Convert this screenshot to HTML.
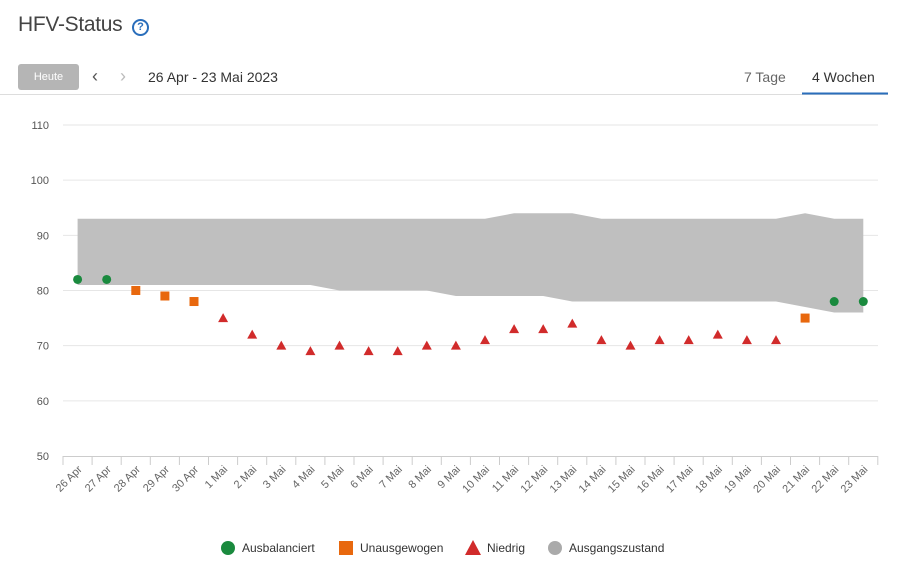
<!DOCTYPE html>
<html><head><meta charset="utf-8"><style>
body{margin:0;width:902px;height:571px;background:#fff;font-family:"Liberation Sans",sans-serif;position:relative;overflow:hidden}
.t{position:absolute;left:18px;top:13px;font-size:21px;color:#444;letter-spacing:-0.3px}
.q{position:absolute;left:132px;top:19px;width:13px;height:13px;border:2px solid #2a6ebb;border-radius:50%;color:#2a6ebb;font-size:11px;font-weight:bold;text-align:center;line-height:13px}
.btn{position:absolute;left:18px;top:64px;width:61px;height:26px;background:#b5b5b5;border-radius:3px;color:#fff;font-size:11px;text-align:center;line-height:26px}
.nav{position:absolute;top:66px;font-size:18px;color:#555}
.d{position:absolute;left:148px;top:69px;font-size:14px;color:#333}
.tab{position:absolute;top:69px;font-size:14px;color:#666}
svg{position:absolute;left:0;top:0}
</style></head><body>
<div class="t">HFV-Status</div><div class="q">?</div>
<div class="btn">Heute</div>
<div class="nav" style="left:92px">&#8249;</div><div class="nav" style="left:120px;color:#bbb">&#8250;</div>
<div class="d">26 Apr - 23 Mai 2023</div>
<div class="tab" style="left:744px">7 Tage</div>
<div class="tab" style="left:812px;color:#333">4 Wochen</div>
<svg id="s" width="902" height="571"></svg>
<script>
const Y=v=>456-(v-50)*5.517, X=i=>77.6+i*29.1;
const lab=["26 Apr","27 Apr","28 Apr","29 Apr","30 Apr"];for(let i=1;i<=23;i++)lab.push(i+" Mai");
const up=[],lo=[];
for(let i=0;i<28;i++){let d=i-4;
up.push((d>=11&&d<=13)||d==21?94:93);
lo.push(d<=4?81:d<=8?80:d<=12?79:d<=20?78:d==21?77:76);}
const pts=[[82,'g'],[82,'g'],[80,'o'],[79,'o'],[78,'o'],[75,'r'],[72,'r'],[70,'r'],[69,'r'],[70,'r'],[69,'r'],[69,'r'],[70,'r'],[70,'r'],[71,'r'],[73,'r'],[73,'r'],[74,'r'],[71,'r'],[70,'r'],[71,'r'],[71,'r'],[72,'r'],[71,'r'],[71,'r'],[75,'o'],[78,'g'],[78,'g']];
let h='<line x1="0" y1="94.5" x2="888" y2="94.5" stroke="#ddd"/><line x1="802" y1="93.5" x2="888" y2="93.5" stroke="#2a6ebb" stroke-width="2"/>';
for(let v=60;v<=110;v+=10){h+=`<line x1="63" x2="878" y1="${Y(v)}" y2="${Y(v)}" stroke="#e6e6e6"/>`}
for(let v=50;v<=110;v+=10)h+=`<text x="49" y="${Y(v)+4}" font-size="11" fill="#555" text-anchor="end">${v}</text>`;
let p='';for(let i=0;i<28;i++)p+=(i?'L':'M')+X(i)+' '+Y(up[i]);for(let i=27;i>=0;i--)p+='L'+X(i)+' '+Y(lo[i]);
h+=`<path d="${p}Z" fill="#bfbfbf"/>`;
h+=`<line x1="63" x2="878" y1="456.5" y2="456.5" stroke="#ccc"/>`;
for(let i=0;i<=28;i++){let x=63+i*29.1;h+=`<line x1="${x}" x2="${x}" y1="456" y2="465" stroke="#ccc"/>`}
lab.forEach((l,i)=>{h+=`<text transform="translate(${X(i)+5},470) rotate(-45)" font-size="11" fill="#666" text-anchor="end">${l}</text>`});
pts.forEach(([v,t],i)=>{let x=X(i),y=Y(v);
if(t=='g')h+=`<circle cx="${x}" cy="${y}" r="4.5" fill="#1a8a3e"/>`;
else if(t=='o')h+=`<rect x="${x-4.5}" y="${y-4.5}" width="9" height="9" fill="#e8680e"/>`;
else h+=`<path d="M${x} ${y-5}L${x+5} ${y+4}L${x-5} ${y+4}Z" fill="#d12b2b"/>`;});
h+=`<circle cx="228" cy="548" r="7" fill="#1a8a3e"/><text x="242" y="552" font-size="12" fill="#333">Ausbalanciert</text>
<rect x="339" y="541" width="14" height="14" fill="#e8680e"/><text x="360" y="552" font-size="12" fill="#333">Unausgewogen</text>
<path d="M473 540L481 555L465 555Z" fill="#d12b2b"/><text x="487" y="552" font-size="12" fill="#333">Niedrig</text>
<circle cx="555" cy="548" r="7" fill="#aaa"/><text x="569" y="552" font-size="12" fill="#333">Ausgangszustand</text>`;
document.getElementById('s').innerHTML=h;
</script>
</body></html>
